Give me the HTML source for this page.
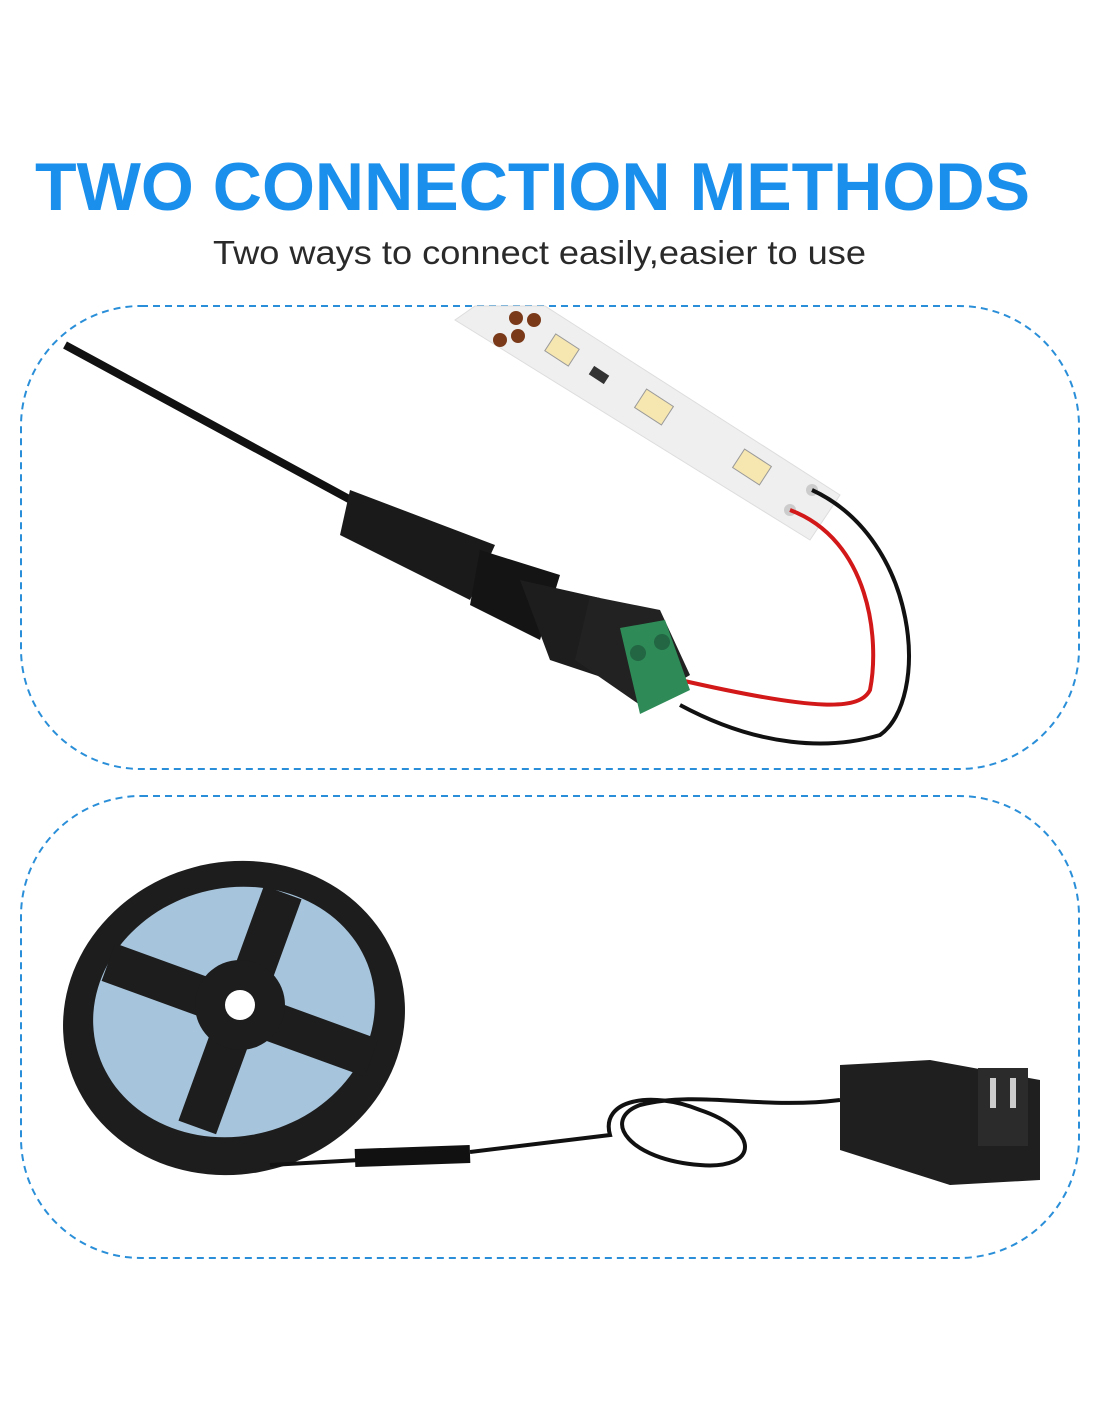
<!DOCTYPE html>
<html><head><meta charset="utf-8"><style>
html,body{margin:0;padding:0;background:#fff;}
svg{display:block}
</style></head><body>
<svg width="1100" height="1422" viewBox="0 0 1100 1422" xmlns="http://www.w3.org/2000/svg">
<rect width="1100" height="1422" fill="#fff"/>
<text x="35" y="210" font-family="Liberation Sans, sans-serif" font-weight="bold" font-size="68" fill="#1a8fec" textLength="995" lengthAdjust="spacingAndGlyphs">TWO CONNECTION METHODS</text>
<text x="213" y="264" font-family="Liberation Sans, sans-serif" font-size="33" fill="#2a2a2a" textLength="653" lengthAdjust="spacingAndGlyphs">Two ways to connect easily,easier to use</text>

<rect x="21" y="306" width="1058" height="463" rx="120" fill="none" stroke="#2a8fd8" stroke-width="2" stroke-dasharray="7,5"/>
<rect x="21" y="796" width="1058" height="462" rx="120" fill="none" stroke="#2a8fd8" stroke-width="2" stroke-dasharray="7,5"/>

<!-- LED strip -->
<polygon points="475,306 545,306 840,495 810,540 455,320" fill="#efefef" stroke="#ddd"/>
<circle cx="516" cy="318" r="7" fill="#7a3a1a"/><circle cx="534" cy="320" r="7" fill="#7a3a1a"/>
<circle cx="500" cy="340" r="7" fill="#7a3a1a"/><circle cx="518" cy="336" r="7" fill="#7a3a1a"/>
<rect x="548" y="340" width="28" height="20" fill="#f6e6b0" stroke="#999" transform="rotate(33 562 350)"/>
<rect x="590" y="370" width="18" height="10" fill="#333" transform="rotate(33 599 375)"/>
<rect x="638" y="396" width="32" height="22" fill="#f6e6b0" stroke="#999" transform="rotate(33 654 407)"/>
<rect x="736" y="456" width="32" height="22" fill="#f6e6b0" stroke="#999" transform="rotate(33 752 467)"/>
<circle cx="790" cy="510" r="6" fill="#ccc"/><circle cx="812" cy="490" r="6" fill="#ccc"/>

<!-- wires -->
<path d="M790,510 C870,540 880,640 870,690 C860,710 820,712 680,680" fill="none" stroke="#d21818" stroke-width="4"/>
<path d="M812,490 C920,540 930,700 880,735 C830,750 760,748 680,705" fill="none" stroke="#111" stroke-width="4"/>

<!-- cable + connectors -->
<path d="M65,345 L360,505" stroke="#111" stroke-width="8" fill="none"/>
<polygon points="350,490 495,545 470,600 340,535" fill="#1a1a1a"/>
<polygon points="480,550 560,575 540,640 470,605" fill="#141414"/>
<polygon points="520,580 600,598 640,690 550,660" fill="#1d1d1d"/>
<polygon points="590,596 660,610 690,675 640,705 575,660" fill="#222"/>
<polygon points="620,628 665,620 690,690 640,714" fill="#2e8b57"/>
<circle cx="638" cy="653" r="8" fill="#226644"/><circle cx="662" cy="642" r="8" fill="#226644"/>

<!-- reel -->
<ellipse cx="234" cy="1018" rx="172" ry="156" fill="#1d1d1d" transform="rotate(-15 234 1018)"/>
<ellipse cx="234" cy="1012" rx="142" ry="124" fill="#a6c4dc" transform="rotate(-15 234 1012)"/>
<path d="M240,885 L240,1135 M100,1010 L380,1010" stroke="#1d1d1d" stroke-width="40" transform="rotate(20 240 1010)"/>
<circle cx="240" cy="1005" r="45" fill="#1d1d1d"/>
<circle cx="240" cy="1005" r="15" fill="#fff"/>

<!-- cable bottom -->
<path d="M270,1165 L360,1160" stroke="#111" stroke-width="4" fill="none"/>
<path d="M355,1158 L470,1154" stroke="#111" stroke-width="18" fill="none"/>
<path d="M470,1152 L610,1135 C600,1100 650,1090 700,1110 C760,1130 760,1170 700,1165 C630,1160 600,1120 640,1105 C700,1090 760,1110 840,1100" stroke="#111" stroke-width="4" fill="none"/>

<!-- adapter -->
<polygon points="840,1065 930,1060 1040,1080 1040,1180 950,1185 840,1150" fill="#1f1f1f"/>
<rect x="978" y="1068" width="50" height="78" fill="#2b2b2b"/>
<rect x="990" y="1078" width="6" height="30" fill="#ccc"/><rect x="1010" y="1078" width="6" height="30" fill="#ccc"/>
</svg>
</body></html>
